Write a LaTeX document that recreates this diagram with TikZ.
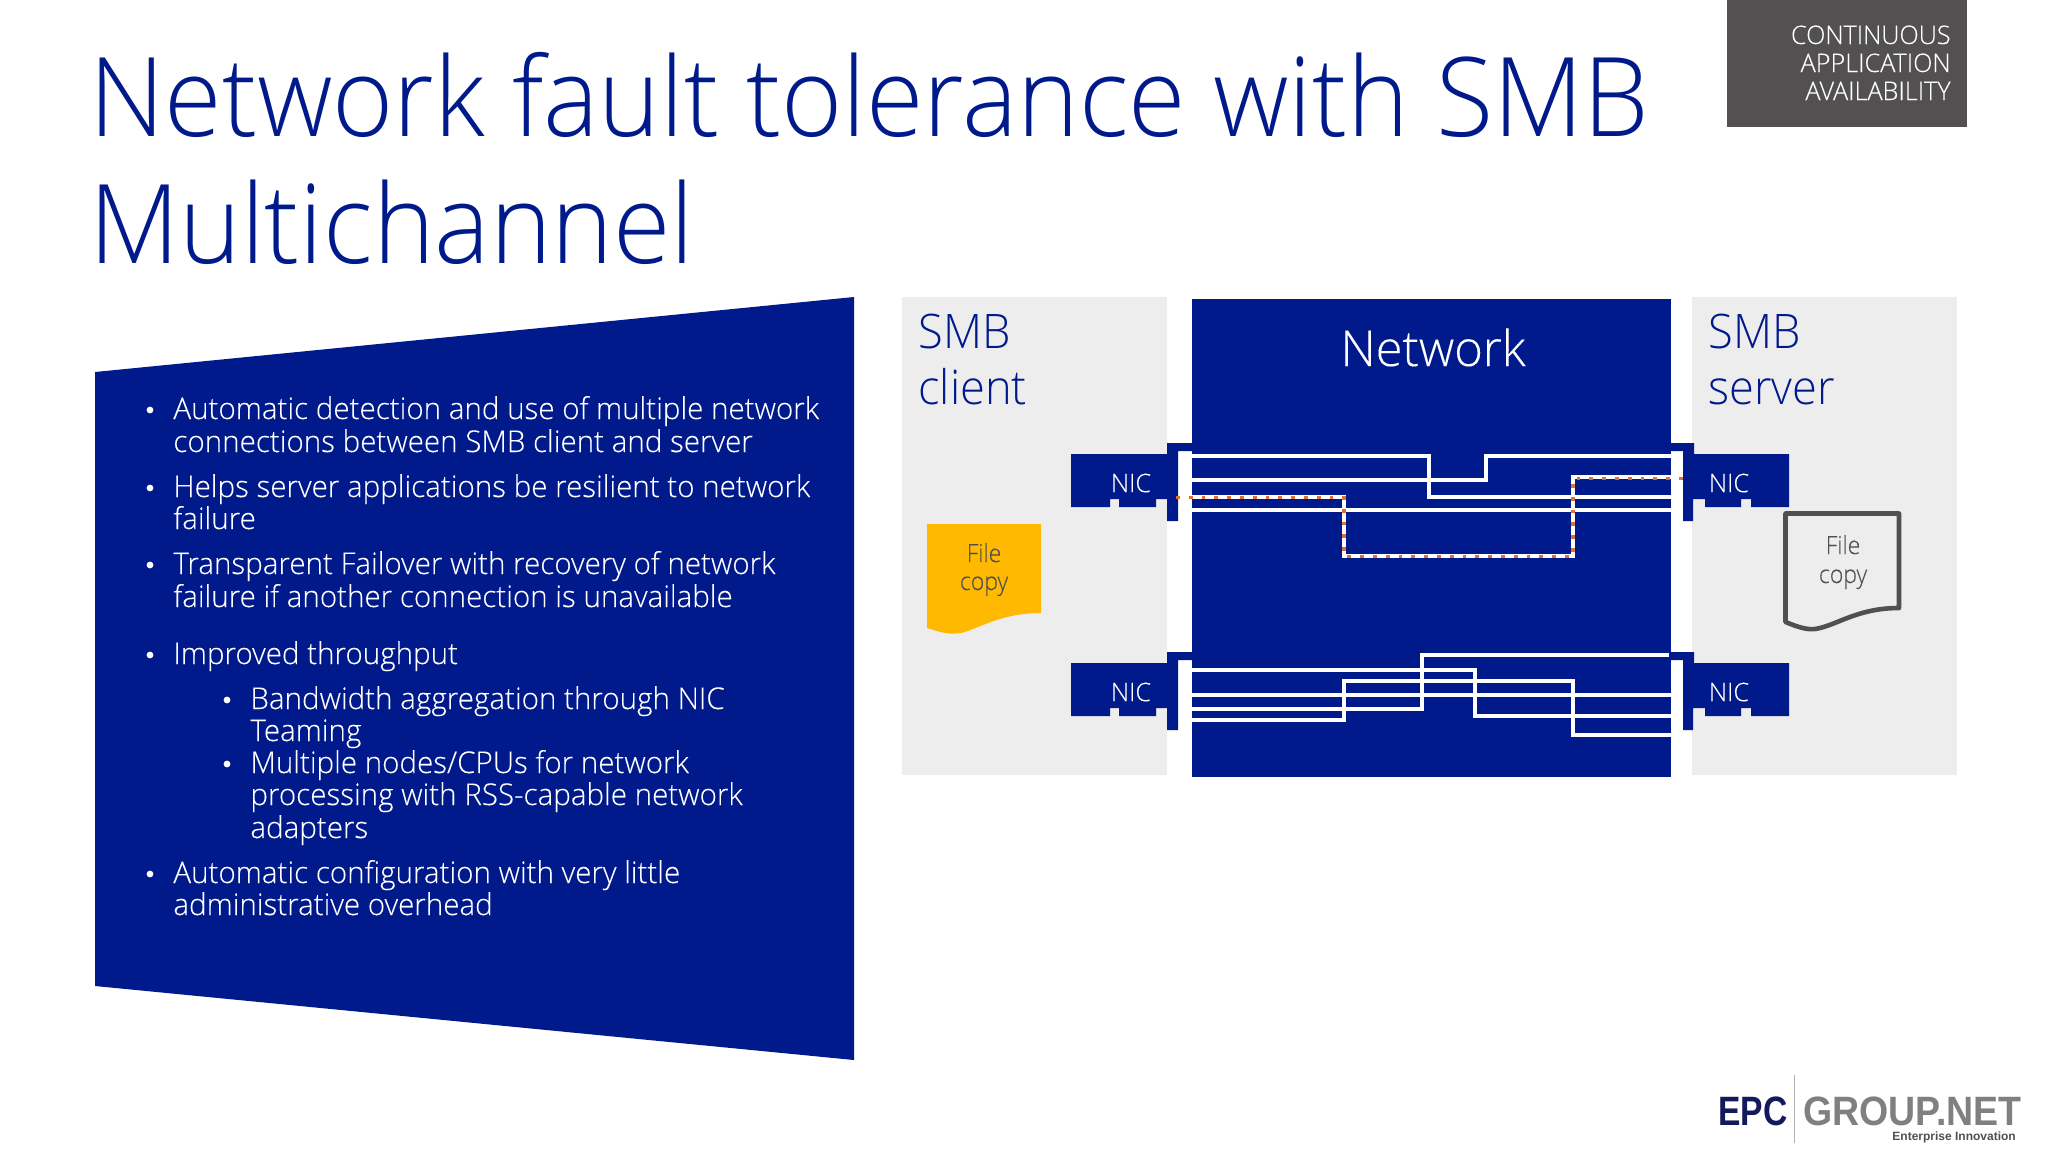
\documentclass[tikz,border=0pt]{standalone}
\usepackage{fontspec}
\setmainfont{Open Sans}
\newfontfamily\lightfont[FakeStretch=0.95]{Open Sans Light}
\newfontfamily\bodyfont[FakeStretch=0.985,FakeBold=0.12]{Open Sans Light}
\newfontfamily\docfont[FakeStretch=0.92,FakeBold=0.12]{Open Sans Light}
\newfontfamily\logofont[FakeStretch=0.82]{Liberation Sans}
\newfontfamily\logowidefont[FakeStretch=0.915]{Liberation Sans}
\newfontfamily\logosubfont{Liberation Sans}
\usetikzlibrary{positioning}
\definecolor{smbblue}{HTML}{001A8C}
\definecolor{panelgrey}{HTML}{EEEDEE}
\definecolor{tagbox}{HTML}{525051}
\definecolor{failorange}{HTML}{E2702E}
\definecolor{docyellow}{HTML}{FFB900}
\definecolor{docgrey}{HTML}{505050}
\definecolor{logonavy}{HTML}{14185C}
\definecolor{logogrey}{HTML}{808080}
\tikzset{
  titletext/.style={anchor=base west,inner sep=0,text=smbblue,font=\lightfont\fontsize{55}{55}\selectfont},
  bodyline/.style={anchor=base west,inner sep=0,text=white,font=\bodyfont\fontsize{15}{15}\selectfont},
  sidetext/.style={anchor=base west,inner sep=0,text=smbblue,font=\lightfont\fontsize{23.8}{23.8}\selectfont},
  nictext/.style={inner sep=0,text=white,font=\bodyfont\fontsize{12.8}{12.8}\selectfont},
  doctext/.style={anchor=base,inner sep=0,font=\docfont\fontsize{12.5}{12.5}\selectfont},
  tagline/.style={anchor=base east,inner sep=0,text=white,font=\bodyfont\fontsize{12.8}{12.8}\selectfont},
  linkline/.style={draw=white,line width=1.75pt},
  failline/.style={draw=failorange,line width=1.9pt,dash pattern=on 1.9pt off 4.5pt}
}
\begin{document}
\begin{tikzpicture}[x=0.5pt,y=-0.5pt]
  \useasboundingbox (0,0) rectangle (2048,1152);
  % title and tag
  \node[titletext] (titleone) at (89,136) {Network fault tolerance with SMB};
  \node[titletext] (titletwo) at (89,263) {Multichannel};
  \fill[tagbox] (1727,0) rectangle (1967,127);
  \foreach \yy/\txt [count=\i] in {44/CONTINUOUS,72/APPLICATION,100/AVAILABILITY} {
    \node[tagline] (tag\i) at (1951,\yy) {\txt};
  }
  % left panel
  \fill[smbblue] (95,372) -- (854,297) -- (854,1060) -- (95,986) -- cycle;
  \foreach \xx/\yy/\txt [count=\i] in {
    173/419/{Automatic detection and use of multiple network},
    173/452/{connections between SMB client and server},
    173/497/{Helps server applications be resilient to network},
    173/529/{failure},
    173/574/{Transparent Failover with recovery of network},
    173/607/{failure if another connection is unavailable},
    173/664/{Improved throughput},
    250/709/{Bandwidth aggregation through NIC},
    250/741/{Teaming},
    250/773/{Multiple nodes/CPUs for network},
    250/805/{processing with RSS-capable network},
    250/838/{adapters},
    173/883/{Automatic configuration with very little},
    173/915/{administrative overhead}} {
    \node[bodyline] (line\i) at (\xx,\yy) {\txt};
  }
  \foreach \xx/\yy [count=\i] in {150/419,150/497,150/574,150/664,227/709,227/773,150/883} {
    \fill[white] (\xx,\yy-9) circle (3.4);
  }
  % client, network, server
  \fill[panelgrey] (902,297) rectangle (1167,775);
  \fill[panelgrey] (1692,297) rectangle (1957,775);
  \fill[smbblue] (1192,299) rectangle (1671,777);
  \node[sidetext] (smbone) at (918,348) {SMB};
  \node[sidetext] (client) at (918,404) {client};
  \node[sidetext] (smbtwo) at (1708,348) {SMB};
  \node[sidetext] (server) at (1708,404) {server};
  \node[anchor=base,inner sep=0,text=white,font=\bodyfont\fontsize{24.8}{24.8}\selectfont] (network) at (1433,366) {Network};
  % NIC cards
  \def\nicleft{
    (1071,454) -- (1167,454) -- (1167,443) -- (1192,443) -- (1192,451) -- (1178,451)
    -- (1178,521) -- (1167,521) -- (1167,499) -- (1156,499) -- (1156,507) -- (1119,507)
    -- (1119,499) -- (1110,499) -- (1110,507) -- (1071,507) -- cycle
  }
  \def\nicright{
    (1789,454) -- (1694,454) -- (1694,443) -- (1671,443) -- (1671,451) -- (1683,451)
    -- (1683,521) -- (1693,521) -- (1693,499) -- (1705,499) -- (1705,507) -- (1741,507)
    -- (1741,499) -- (1751,499) -- (1751,507) -- (1789,507) -- cycle
  }
  \foreach \dy/\nm in {0/a,209/b} {
    \begin{scope}[shift={(0,\dy)}]
      \fill[smbblue] \nicleft;
      \fill[smbblue] \nicright;
      \node[nictext] (nicl\nm) at (1131,483) {NIC};
      \node[nictext] (nicr\nm) at (1729,483) {NIC};
    \end{scope}
  }
  % link ports
  \foreach \nm/\yy in {ca1/456,ca2/480,ca3/497,ca4/510,cb1/670,cb2/695,cb3/709,cb4/720} {
    \coordinate (\nm) at (1192,\yy);
  }
  \foreach \nm/\yy in {sa1/456,sa2/477,sa3/497,sa4/510,sb2/695,sb3/716,sb4/735} {
    \coordinate (\nm) at (1671,\yy);
  }
  \coordinate (sb1) at (1669,655);
  % links
  \draw[linkline] (ca1) -- (1429,456) -- (1429,497) -- (sa3);
  \draw[linkline] (ca2) -- (1486,480) -- (1486,456) -- (sa1);
  \draw[linkline] (ca3) -- (1344,497) -- (1344,556) -- (1573,556) -- (1573,477) -- (sa2);
  \draw[linkline] (ca4) -- (sa4);
  \draw[linkline] (cb1) -- (1475,670) -- (1475,716) -- (sb3);
  \draw[linkline] (cb2) -- (sb2);
  \draw[linkline] (cb3) -- (1422,709) -- (1422,655) -- (sb1);
  \draw[linkline] (cb4) -- (1344,720) -- (1344,681) -- (1573,681) -- (1573,735) -- (sb4);
  \coordinate (failstart) at (1176,497.5);
  \coordinate (failend) at (1684,478.5);
  \draw[failline] (failstart) -- (1344,497.5) -- (1344,556.5) -- (1573,556.5) -- (1573,478.5) -- (failend);
  % file copies
  \fill[docyellow] (927,524) -- (1041,524) -- (1041,613)
    .. controls (1005,613) and (985,625) .. (965,632)
    .. controls (950,636) and (940,632) .. (927,628) -- cycle;
  \node[doctext,text=docgrey] (fileone) at (984,562) {File};
  \node[doctext,text=docgrey] (copyone) at (984,590) {copy};
  \draw[docgrey,line width=2.3pt,line join=round] (1785.5,513.5) -- (1899,513.5) -- (1899,608)
    .. controls (1860,608) and (1840,623) .. (1820,628)
    .. controls (1810,631) and (1800,628) .. (1785.5,622) -- cycle;
  \node[doctext,text=docgrey] (filetwo) at (1843,554) {File};
  \node[doctext,text=docgrey] (copytwo) at (1843,583) {copy};
  % logo
  \node[anchor=base west,inner sep=0,text=logonavy,font=\logofont\bfseries\fontsize{20.5}{20.5}\selectfont] (logoepc) at (1718,1125) {EPC};
  \draw[logogrey!60,line width=0.5pt] (1794,1075) -- (1794,1143);
  \node[anchor=base west,inner sep=0,text=logogrey,font=\logowidefont\bfseries\fontsize{20.5}{20.5}\selectfont] (logonet) at (1803,1125) {GROUP.NET};
  \node[anchor=base west,inner sep=0,text=docgrey,font=\logosubfont\bfseries\fontsize{6}{6}\selectfont] (logosub) at (1892,1140) {Enterprise Innovation};
\end{tikzpicture}
\end{document}
